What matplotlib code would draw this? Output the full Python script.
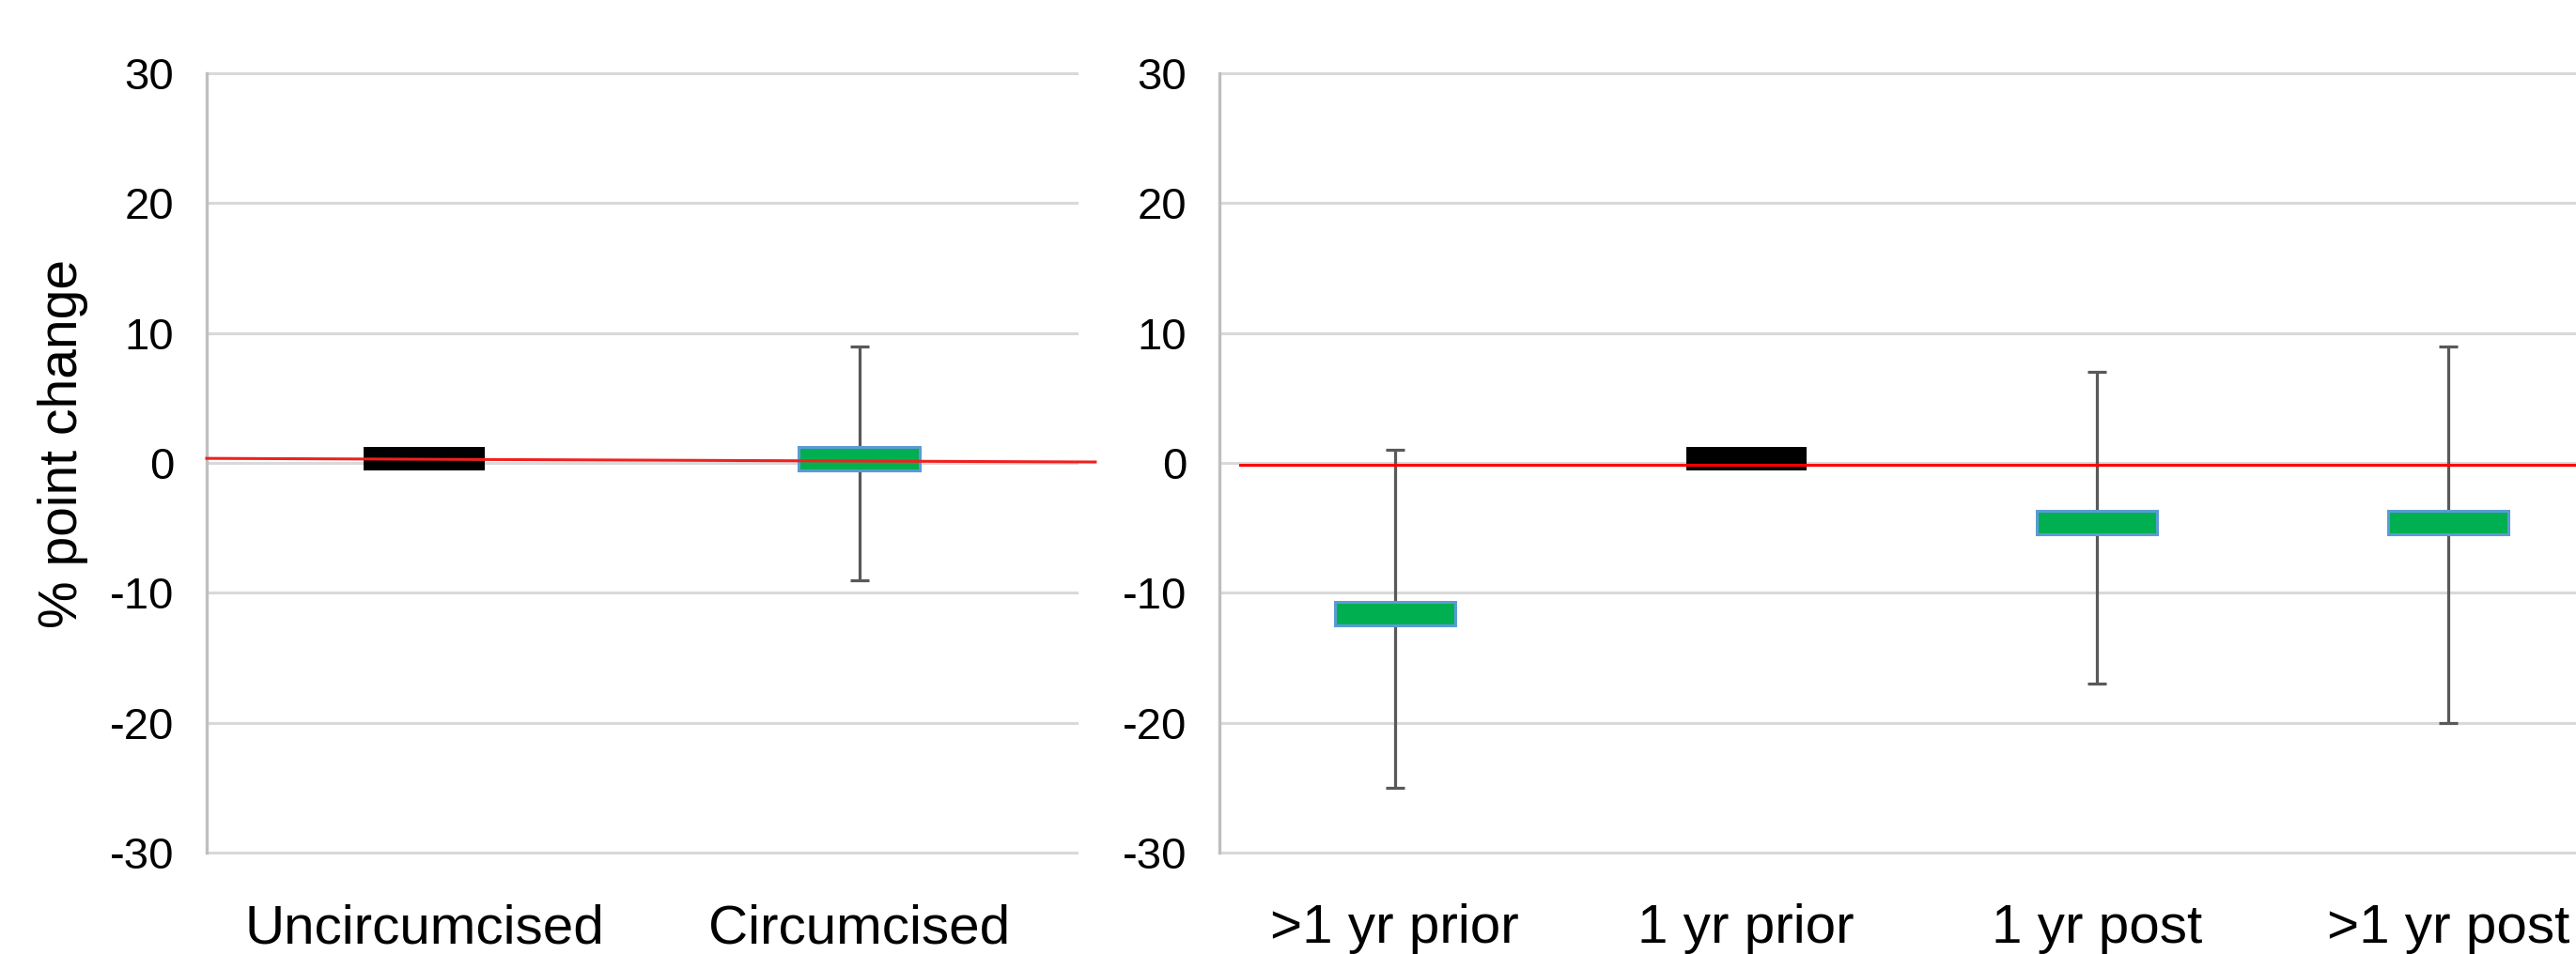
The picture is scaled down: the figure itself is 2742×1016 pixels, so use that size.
import matplotlib
matplotlib.use("Agg")
import matplotlib.pyplot as plt
import numpy as np

plt.rcParams['font.family'] = ['Liberation Sans', 'DejaVu Sans']
plt.rcParams['axes.unicode_minus'] = False

# --- data ---
left_cats = ['Uncircumcised', 'Circumcised']
left_vals = [0.3, 0.3]
left_lo = [0.3, -9]
left_hi = [0.3, 9]
left_ref = [0.35, 0.07]      # slightly sloped red reference line (start, end)

right_cats = ['>1 yr prior', '1 yr prior', '1 yr post', '>1 yr post']
right_vals = [-11.6, 0.3, -4.6, -4.6]
right_lo = [-25, 0.3, -17, -20]
right_hi = [1, 0.3, 7, 9]
right_ref = -0.15

ref_group = ['Uncircumcised', '1 yr prior']   # drawn in black

yticks = [-30, -20, -10, 0, 10, 20, 30]

GREEN = '#00B050'
EDGE = '#5B9BD5'
GRID = '#D9D9D9'
SPINE = '#BFBFBF'
ERR = '#595959'

fig = plt.figure(figsize=(27.42, 10.16), dpi=100)
ax1 = fig.add_axes([220 / 2742, 1 - 908 / 1016, 926 / 2742, 830 / 1016])
ax2 = fig.add_axes([1298 / 2742, 1 - 908 / 1016, 1495 / 2742, 830 / 1016])


def draw_panel(ax, cats, vals, lo, hi, width):
    x = np.arange(len(cats))
    vals = np.array(vals)
    lo = np.array(lo)
    hi = np.array(hi)
    ax.errorbar(x, vals, yerr=[vals - lo, hi - vals], fmt='none',
                ecolor=ERR, elinewidth=2.3, capsize=7, capthick=2.3, zorder=2)
    h = 1.8
    for xi, v, c in zip(x, vals, cats):
        if c in ref_group:
            ax.bar(xi, h, width=width, bottom=v - h / 2, color='black',
                   edgecolor='black', linewidth=0, zorder=3)
        else:
            ax.bar(xi, h, width=width, bottom=v - h / 2, color=GREEN,
                   edgecolor=EDGE, linewidth=2.2, zorder=3)
    ax.set_xlim(-0.5, len(cats) - 0.5)
    ax.set_ylim(-30, 30)
    ax.set_yticks(yticks)
    ax.set_xticks(x)
    ax.set_xticklabels(cats, fontsize=42)
    ax.tick_params(axis='y', length=0, pad=25, labelsize=34)
    ax.tick_params(axis='x', length=0, pad=39)
    ax.yaxis.grid(True, color=GRID, linewidth=2.2)
    ax.set_axisbelow(True)
    for gl in ax.get_ygridlines():
        gl.set_clip_on(False)
    for s in ['top', 'right', 'bottom']:
        ax.spines[s].set_visible(False)
    ax.spines['left'].set_color(SPINE)
    ax.spines['left'].set_linewidth(2.4)


draw_panel(ax1, left_cats, left_vals, left_lo, left_hi, 0.28)
draw_panel(ax2, right_cats, right_vals, right_lo, right_hi, 0.343)

# red reference lines
ax1.plot([-0.5, 1.543], left_ref, color='#F02020', linewidth=2.2,
         zorder=4, clip_on=False)
ax2.plot([-0.44, 3.5], [right_ref, right_ref], color='#FF0000',
         linewidth=2.2, zorder=4, clip_on=False)

fig.text(67 / 2742, 1 - 472 / 1016, '% point change', rotation=90,
         fontsize=41, ha='center', va='center')

fig.savefig('out.png', dpi=100)
